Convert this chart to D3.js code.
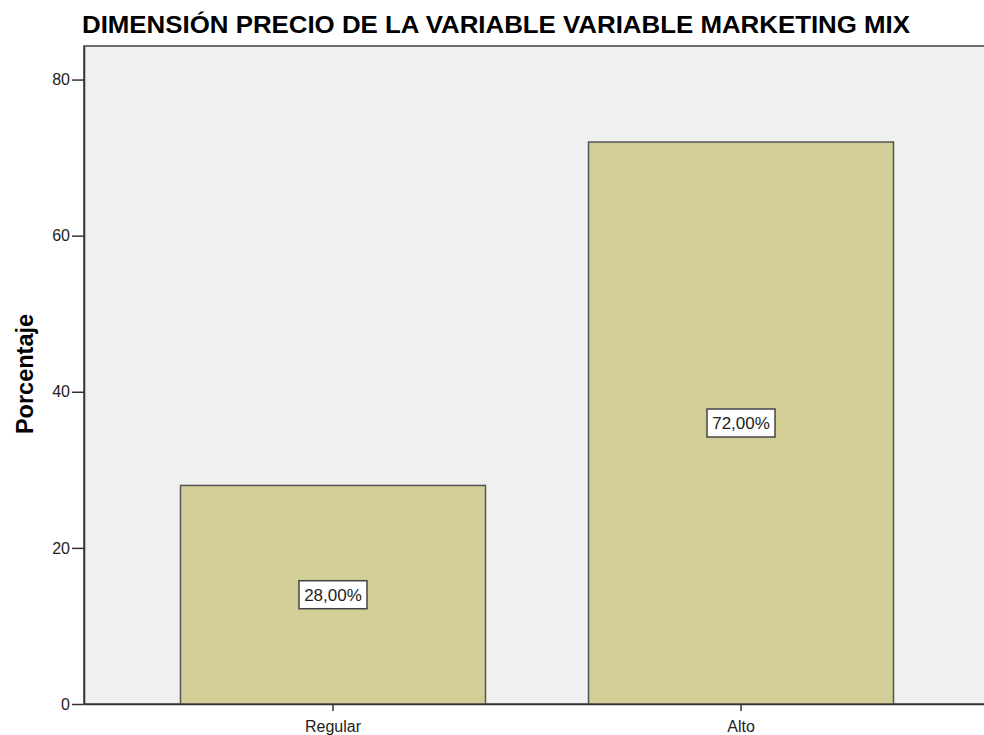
<!DOCTYPE html>
<html>
<head>
<meta charset="utf-8">
<script src="https://cdn.jsdelivr.net/npm/d3@7"></script>
<style>
  body { margin: 0; background: #fff; }
  text { font-family: Arial, "Liberation Sans", sans-serif; }
</style>
</head>
<body>
<script>
//Declare consts/global variables
    const width = 984;
    const height = 735;
    const plotLeft = 84, plotRight = 990, plotTop = 46, plotBottom = 704;

//Data
    const categories = ["Regular", "Alto"];
    const percentages = [28, 72];
    const labels = ["28,00%", "72,00%"];
    const yTicks = [0, 20, 40, 60, 80];

//Scales
    const xScale = d3.scaleBand()
                    .domain(categories)
                    .range([plotLeft, plotRight])
                    .paddingInner(0.2525)
                    .paddingOuter(0.2365);

    const yScale = d3.scaleLinear()
                    .domain([0, 84.3])
                    .range([plotBottom, plotTop]);

//SVG
    const svg = d3.select("body")
                .append("svg")
                .attr("width", width)
                .attr("height", height);

    //plot background
    svg.append("rect")
        .attr("x", plotLeft)
        .attr("y", plotTop)
        .attr("width", plotRight - plotLeft)
        .attr("height", plotBottom - plotTop)
        .attr("fill", "#f0f0f0")
        .attr("stroke", "#444")
        .attr("stroke-width", 1.5);

    //title
    svg.append("text")
        .attr("x", 82)
        .attr("y", 33)
        .attr("font-size", 24)
        .attr("font-weight", "bold")
        .attr("fill", "#000")
        .attr("textLength", 828)
        .attr("lengthAdjust", "spacingAndGlyphs")
        .text("DIMENSIÓN PRECIO DE LA VARIABLE VARIABLE MARKETING MIX");

//Bars
    svg.selectAll("rect.bar")
        .data(categories)
        .enter()
        .append("rect")
        .attr("class", "bar")
        .attr("x", d => xScale(d))
        .attr("y", (d, i) => yScale(percentages[i]))
        .attr("width", xScale.bandwidth())
        .attr("height", (d, i) => plotBottom - yScale(percentages[i]))
        .attr("fill", "#d3ce97")
        .attr("stroke", "#555")
        .attr("stroke-width", 1.5);

//Axes
    const bottomAxis = d3.axisBottom(xScale).tickSize(7).tickSizeOuter(0);
    const leftAxis = d3.axisLeft(yScale).tickValues(yTicks).tickSize(12).tickSizeOuter(0);

    const gx = svg.append("g")
        .attr("transform", "translate(0," + plotBottom + ")")
        .call(bottomAxis);
    gx.select(".domain").attr("stroke", "#333").attr("stroke-width", 1.5);
    gx.selectAll(".tick line").attr("stroke", "#333").attr("stroke-width", 1.5);
    gx.selectAll(".tick text")
        .attr("font-size", 16)
        .attr("fill", "#222")
        .attr("y", 28)
        .attr("dy", null)
        .style("font-family", "Arial, 'Liberation Sans', sans-serif");

    const gy = svg.append("g")
        .attr("transform", "translate(" + plotLeft + ",0)")
        .call(leftAxis);
    gy.select(".domain").attr("stroke", "#333").attr("stroke-width", 1.5);
    gy.selectAll(".tick line").attr("stroke", "#333").attr("stroke-width", 1.5);
    gy.selectAll(".tick text")
        .attr("font-size", 16)
        .attr("fill", "#222")
        .attr("x", -14)
        .style("font-family", "Arial, 'Liberation Sans', sans-serif");

    //y label
    svg.append("text")
        .attr("transform", "translate(33,374) rotate(-90)")
        .attr("text-anchor", "middle")
        .attr("font-size", 23.5)
        .attr("font-weight", "bold")
        .attr("fill", "#000")
        .text("Porcentaje");

//Value labels
    const lab = svg.selectAll("g.lab")
        .data(categories)
        .enter()
        .append("g")
        .attr("class", "lab")
        .attr("transform", (d, i) => "translate(" + (xScale(d) + xScale.bandwidth() / 2) + "," + yScale(percentages[i] / 2) + ")");

    lab.append("rect")
        .attr("x", -34)
        .attr("y", -14)
        .attr("width", 68)
        .attr("height", 28)
        .attr("fill", "#fff")
        .attr("stroke", "#444")
        .attr("stroke-width", 1.5);

    lab.append("text")
        .attr("text-anchor", "middle")
        .attr("dy", "0.36em")
        .attr("font-size", 17)
        .attr("fill", "#222")
        .text((d, i) => labels[i]);
</script>
</body>
</html>
